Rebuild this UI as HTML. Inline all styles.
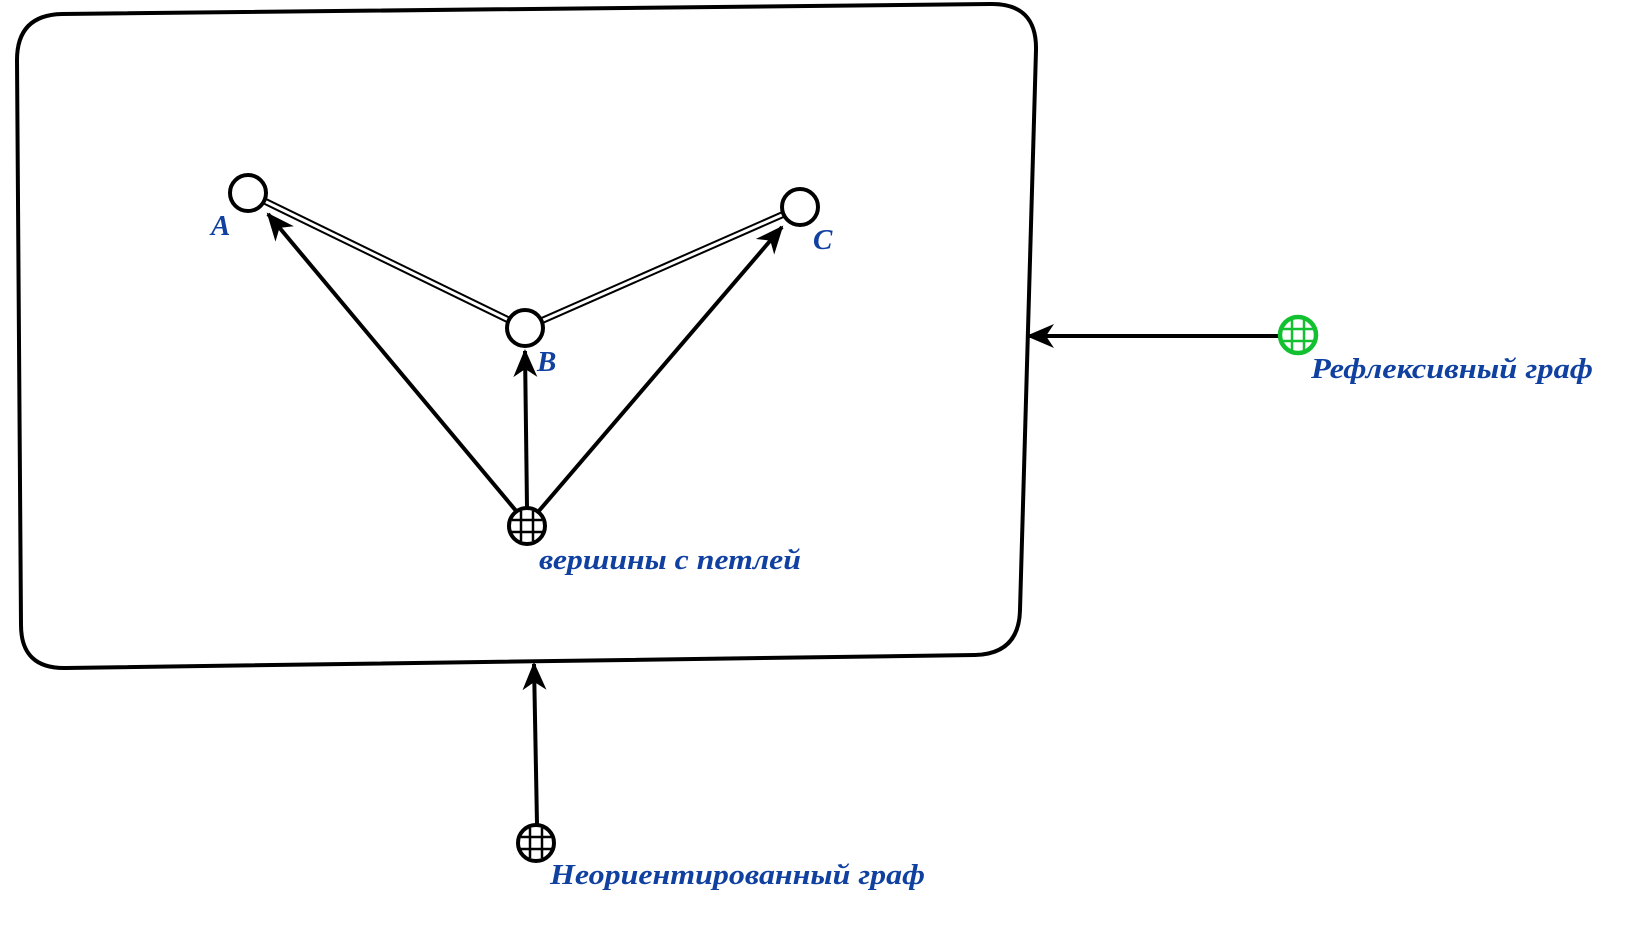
<!DOCTYPE html>
<html><head><meta charset="utf-8"><style>
html,body{margin:0;padding:0;background:#fff;}
svg{display:block;}
text{font-family:"Liberation Serif","DejaVu Serif",serif;font-style:italic;font-weight:bold;fill:#1040a0;}
</style></head><body>
<svg width="1634" height="930" viewBox="0 0 1634 930" xmlns="http://www.w3.org/2000/svg">
<defs>
<marker id="ar2" markerWidth="28" markerHeight="24" refX="26" refY="12" orient="auto" markerUnits="userSpaceOnUse" viewBox="0 0 28 24">
<path d="M0,0 L28,12 L0,24 L8,12 Z" fill="#000"/>
</marker>
</defs>
<path d="M62,14 L990,4 Q1037,3 1036,50 L1020,610 Q1019,654 975,655 L66,668 Q21,669 21,625 L17,60 Q17,15 62,14 Z" fill="none" stroke="#000" stroke-width="4"/>
<g stroke="#000" stroke-width="7"><line x1="248" y1="193" x2="525" y2="328"/><line x1="525" y1="328" x2="800" y2="207"/></g>
<g stroke="#fff" stroke-width="3"><line x1="248" y1="193" x2="525" y2="328"/><line x1="525" y1="328" x2="800" y2="207"/></g>
<g stroke="#000" stroke-width="4" fill="none">
<line x1="517" y1="512" x2="268" y2="214" marker-end="url(#ar2)"/>
<line x1="527" y1="507" x2="525" y2="351" marker-end="url(#ar2)"/>
<line x1="538" y1="512" x2="782" y2="227" marker-end="url(#ar2)"/>
<line x1="1279" y1="336" x2="1028" y2="336" marker-end="url(#ar2)"/>
<line x1="537" y1="824" x2="534" y2="664" marker-end="url(#ar2)"/>
</g>
<g fill="#fff" stroke="#000" stroke-width="4">
<circle cx="248" cy="193" r="18"/>
<circle cx="525" cy="328" r="18"/>
<circle cx="800" cy="207" r="18"/>
</g>
<g stroke="#000" stroke-width="2.5" fill="#fff">
<circle cx="527" cy="526" r="18" stroke-width="4"/>
<line x1="512" y1="520" x2="542" y2="520"/><line x1="511" y1="532" x2="543" y2="532"/>
<line x1="521" y1="511" x2="521" y2="541"/><line x1="533" y1="511" x2="533" y2="541"/>
</g>
<g stroke="#000" stroke-width="2.5" fill="#fff">
<circle cx="536" cy="843" r="18" stroke-width="4"/>
<line x1="521" y1="837" x2="551" y2="837"/><line x1="520" y1="849" x2="552" y2="849"/>
<line x1="530" y1="828" x2="530" y2="858"/><line x1="542" y1="828" x2="542" y2="858"/>
</g>
<g stroke="#12c030" stroke-width="2.5" fill="#fff">
<circle cx="1298" cy="335" r="18" stroke="#12c030" stroke-width="4.5"/>
<line x1="1283" y1="329" x2="1313" y2="329"/><line x1="1282" y1="341" x2="1314" y2="341"/>
<line x1="1292" y1="320" x2="1292" y2="350"/><line x1="1304" y1="320" x2="1304" y2="350"/>
</g>
<text x="211" y="235" font-size="29">A</text>
<text x="537" y="371" font-size="29">B</text>
<text x="813" y="249" font-size="29">C</text>
<text x="539" y="569" font-size="29" textLength="262" lengthAdjust="spacingAndGlyphs">вершины с петлей</text>
<text x="1311" y="378" font-size="29" textLength="282" lengthAdjust="spacingAndGlyphs">Рефлексивный граф</text>
<text x="550" y="884" font-size="29" textLength="375" lengthAdjust="spacingAndGlyphs">Неориентированный граф</text>
</svg>
</body></html>
